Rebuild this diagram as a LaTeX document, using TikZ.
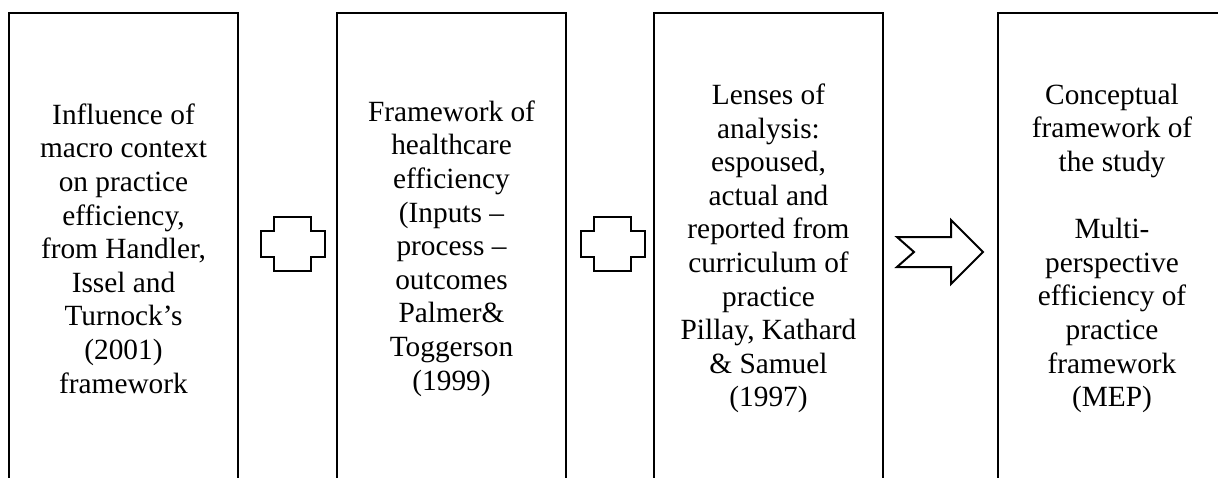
\documentclass[tikz,border=0pt]{standalone}
\usepackage{fontspec}
\setmainfont{Liberation Serif}

\begin{document}
\begin{tikzpicture}[x=0.75pt, y=-0.75pt,
    stage box/.style = {draw, line width=1.5pt, minimum width=171.75pt, minimum height=353.25pt, inner sep=0pt, align=center, font=\fontsize{22}{25.2}\selectfont},
    link sign/.style = {draw, line width=1.5pt, line join=miter}]
    \useasboundingbox (0,0) rectangle (1218,478);
    \clip (0,0) rectangle (1218,478);

    \node[stage box] (macro) at (123.5,248.5) {Influence of \\ macro context \\ on practice \\ efficiency, \\ from Handler, \\ Issel and \\ Turnock’s \\ (2001) \\ framework};
    \node[stage box] (health) at (451.5,248.5) {Framework of \\ healthcare \\ efficiency \\ (Inputs – \\ process – \\ outcomes \\ Palmer\& \\ Toggerson \\ (1999)};
    \node[stage box] (lenses) at (768.5,248.5) {Lenses of \\ analysis: \\ espoused, \\ actual and \\ reported from \\ curriculum of \\ practice \\ Pillay, Kathard \\ \& Samuel \\ (1997)};
    \node[stage box] (mep) at (1112,248.5) {Conceptual \\ framework of \\ the study \\[25.2pt] Multi- \\ perspective \\ efficiency of \\ practice \\ framework \\ (MEP)};

    \begin{scope}[shift={(293,244)}]
        \draw[link sign] (-19,-27) -- (18,-27) -- (18,-13) -- (32,-13) -- (32,13) -- (18,13) -- (18,27) -- (-19,27) -- (-19,13) -- (-32,13) -- (-32,-13) -- (-19,-13) -- cycle;
    \end{scope}

    \begin{scope}[shift={(613,244)}]
        \draw[link sign] (-19,-27) -- (18,-27) -- (18,-13) -- (32,-13) -- (32,13) -- (18,13) -- (18,27) -- (-19,27) -- (-19,13) -- (-32,13) -- (-32,-13) -- (-19,-13) -- cycle;
    \end{scope}

    \begin{scope}[shift={(940,252)}]
        \draw[link sign] (-43,-15) -- (11,-15) -- (11,-32) -- (43,0) -- (11,32) -- (11,15) -- (-43,15) -- (-26,0) -- cycle;
    \end{scope}
\end{tikzpicture}
\end{document}
